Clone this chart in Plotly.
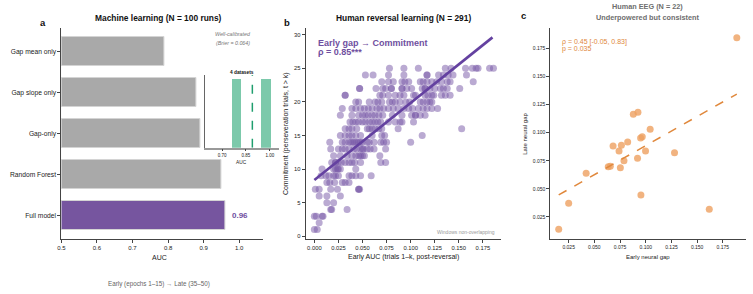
import plotly.graph_objects as go

# ---------------- DATA ----------------
# Panel a: machine learning AUCs
ml_models = ["Full model", "Random Forest", "Gap-only", "Gap slope only", "Gap mean only"]
ml_auc = [0.961, 0.950, 0.892, 0.879, 0.789]
full_label = "0.96"
# Inset histogram of AUC across 4 datasets
inset_bin_centers = [0.790, 0.973]
inset_counts = [2, 2]
inset_bin_width = 0.058
inset_mean_auc = 0.89

# Panel b: human reversal learning (early AUC vs commitment); rows by commitment value
b_rows = {
    25: [0.078, 0.093, 0.108, 0.136, 0.142, 0.157, 0.164, 0.168, 0.170, 0.182, 0.186],
    24: [0.053, 0.061, 0.077, 0.093, 0.117, 0.117, 0.129, 0.134, 0.139, 0.144, 0.158],
    23: [0.070, 0.077, 0.082, 0.091, 0.094, 0.098, 0.110, 0.113, 0.117, 0.122, 0.127, 0.132, 0.138, 0.141, 0.165],
    22: [0.047, 0.047, 0.064, 0.071, 0.074, 0.080, 0.080, 0.091, 0.091, 0.096, 0.101, 0.112, 0.115, 0.115,
         0.120, 0.125, 0.131, 0.134, 0.138, 0.151],
    21: [0.032, 0.032, 0.068, 0.071, 0.077, 0.084, 0.089, 0.093, 0.103, 0.105, 0.115, 0.118, 0.122, 0.124,
         0.132, 0.136, 0.141],
    20: [0.043, 0.046, 0.057, 0.063, 0.066, 0.070, 0.078, 0.081, 0.084, 0.089, 0.095, 0.099, 0.110, 0.113,
         0.117, 0.120, 0.122],
    19: [0.029, 0.039, 0.043, 0.048, 0.052, 0.056, 0.060, 0.065, 0.068, 0.072, 0.077, 0.082, 0.087, 0.093,
         0.098, 0.102, 0.108, 0.113, 0.117, 0.122, 0.128],
    18: [0.027, 0.039, 0.046, 0.050, 0.053, 0.056, 0.060, 0.063, 0.067, 0.071, 0.081, 0.091, 0.101, 0.105,
         0.105, 0.110, 0.115],
    17: [0.037, 0.040, 0.043, 0.046, 0.050, 0.053, 0.057, 0.060, 0.063, 0.066, 0.069, 0.077, 0.084, 0.089,
         0.091, 0.103],
    16: [0.032, 0.036, 0.039, 0.044, 0.055, 0.057, 0.060, 0.063, 0.067, 0.070, 0.087, 0.153],
    15: [0.027, 0.032, 0.036, 0.039, 0.043, 0.048, 0.060, 0.070, 0.073, 0.112],
    14: [0.016, 0.029, 0.032, 0.036, 0.038, 0.040, 0.042, 0.044, 0.046, 0.048, 0.050, 0.055, 0.057, 0.062,
         0.069, 0.072, 0.075, 0.100],
    13: [0.017, 0.025, 0.029, 0.032, 0.036, 0.041, 0.044, 0.048, 0.050, 0.051, 0.055, 0.058, 0.062, 0.074],
    12: [0.020, 0.027, 0.034, 0.039, 0.043, 0.046, 0.048, 0.050, 0.052, 0.068],
    11: [0.018, 0.022, 0.022, 0.025, 0.028, 0.032, 0.036, 0.039, 0.042, 0.048, 0.069, 0.074],
    10: [0.008, 0.020, 0.022, 0.024, 0.025, 0.027, 0.043],
    9: [0.007, 0.012, 0.015, 0.020, 0.022, 0.025, 0.036, 0.039, 0.043, 0.048, 0.059],
    8: [0.013, 0.016, 0.021, 0.029, 0.032, 0.036],
    7: [0.001, 0.005, 0.017, 0.024, 0.046, 0.046, 0.047],
    6: [0.005, 0.013, 0.027],
    5: [0.013, 0.020],
    4: [0.017, 0.018, 0.034],
    3: [0.000, 0.002, 0.008, 0.009],
    2: [0.005],
    1: [0.000, 0.003],
}
b_fit_slope = 114.7
b_fit_intercept = 8.38
b_fit_x = [0.0, 0.185]

# Panel c: human EEG
c_early = [0.1886, 0.0879, 0.0924, 0.1043, 0.0950, 0.0966, 0.0682, 0.0763, 0.0824, 0.0740, 0.0998,
           0.1280, 0.0788, 0.0920, 0.0635, 0.0655, 0.0753, 0.0420, 0.0250, 0.0953, 0.1618, 0.0153]
c_late = [0.1845, 0.1164, 0.1181, 0.1030, 0.0953, 0.0964, 0.0882, 0.0888, 0.0917, 0.0837, 0.0837,
          0.0822, 0.0751, 0.0772, 0.0698, 0.0702, 0.0689, 0.0639, 0.0372, 0.0446, 0.0318, 0.0141]
c_fit_slope = 0.518
c_fit_intercept = 0.0367

# ---------------- FIGURE ----------------
W, H = 753, 294
FONT = "Liberation Sans, Arial, sans-serif"
PURPLE = "#6f4fa0"
ORANGE = "#e0883c"


def PX(x):
    return x / W


def PY(y):
    return 1 - y / H


b_x, b_y = [], []
for yv, xs in b_rows.items():
    for xv in xs:
        b_x.append(xv)
        b_y.append(yv)

fig = go.Figure()

# Panel a bars
ypos = list(range(len(ml_models)))
fig.add_trace(go.Bar(
    x=[a - 0.5 for a in ml_auc], base=0.5, y=ypos, orientation="h", width=0.7,
    marker=dict(color=["#76559f"] + ["#a9a9a9"] * 4, line=dict(color="#d4d4d4", width=1)),
    xaxis="x", yaxis="y", showlegend=False, hoverinfo="skip"))

# Inset histogram
fig.add_trace(go.Bar(
    x=inset_bin_centers, y=inset_counts, width=inset_bin_width,
    marker=dict(color="#7cc9ab", line=dict(width=0)),
    xaxis="x4", yaxis="y4", showlegend=False, hoverinfo="skip"))
fig.add_trace(go.Scatter(
    x=[inset_mean_auc, inset_mean_auc], y=[0, 2.12], mode="lines",
    line=dict(color="#1f9e6e", width=1.5, dash="dash"),
    xaxis="x4", yaxis="y4", showlegend=False, hoverinfo="skip"))

# Panel b scatter
fig.add_trace(go.Scatter(
    x=b_x, y=b_y, mode="markers",
    marker=dict(size=7, color="rgba(118,86,166,0.5)", line=dict(width=0)),
    xaxis="x2", yaxis="y2", showlegend=False, hoverinfo="skip"))
fig.add_trace(go.Scatter(
    x=b_fit_x, y=[b_fit_intercept + b_fit_slope * v for v in b_fit_x], mode="lines",
    line=dict(color="#6441a0", width=2.6),
    xaxis="x2", yaxis="y2", showlegend=False, hoverinfo="skip"))

# Panel c scatter
fig.add_trace(go.Scatter(
    x=c_early, y=c_late, mode="markers",
    marker=dict(size=7, color="rgba(238,160,96,0.8)", line=dict(width=0)),
    xaxis="x3", yaxis="y3", showlegend=False, hoverinfo="skip", cliponaxis=False))
cx = [min(c_early), max(c_early)]
fig.add_trace(go.Scatter(
    x=cx, y=[c_fit_intercept + c_fit_slope * v for v in cx], mode="lines",
    line=dict(color=ORANGE, width=1.5, dash="dash"),
    xaxis="x3", yaxis="y3", showlegend=False, hoverinfo="skip"))

axis_common = dict(showline=True, linecolor="#444", linewidth=1, ticks="outside", ticklen=3,
                   tickcolor="#444", tickwidth=1, showgrid=False, zeroline=False,
                   tickfont=dict(size=6, color="#222", family=FONT))

fig.update_layout(
    width=W, height=H, margin=dict(l=0, r=0, t=0, b=0),
    paper_bgcolor="white", plot_bgcolor="rgba(0,0,0,0)",
    font=dict(family=FONT, color="#222"),
    bargap=0,
    xaxis=dict(domain=[PX(57.7), PX(260)], range=[0.5, 1.066], tickvals=[0.5, 0.6, 0.7, 0.8, 0.9, 1.0],
               ticktext=["0.5", "0.6", "0.7", "0.8", "0.9", "1.0"], anchor="y", **axis_common),
    yaxis=dict(domain=[PY(239), PY(28)], range=[-0.58, 4.58], tickvals=ypos, ticktext=ml_models,
               anchor="x", **{**axis_common, "tickfont": dict(size=6.7, color="#222", family=FONT)}),
    xaxis2=dict(domain=[PX(303.3), PX(500)], range=[-0.009, 0.1942],
                tickvals=[0, 0.025, 0.05, 0.075, 0.1, 0.125, 0.15, 0.175],
                ticktext=["0.000", "0.025", "0.050", "0.075", "0.100", "0.125", "0.150", "0.175"],
                anchor="y2", **{**axis_common, "tickfont": dict(size=5.8, color="#222", family=FONT)}),
    yaxis2=dict(domain=[PY(239), PY(28.3)], range=[-0.4, 30.95], tickvals=[0, 5, 10, 15, 20, 25, 30],
                anchor="x2", **{**axis_common, "tickfont": dict(size=5.8, color="#222", family=FONT)}),
    xaxis3=dict(domain=[PX(549.3), PX(745.7)], range=[0.0072, 0.1973],
                tickvals=[0.025, 0.05, 0.075, 0.1, 0.125, 0.15, 0.175],
                ticktext=["0.025", "0.050", "0.075", "0.100", "0.125", "0.150", "0.175"],
                anchor="y3", **{**axis_common, "tickfont": dict(size=5, color="#222", family=FONT)}),
    yaxis3=dict(domain=[PY(239), PY(28.3)], range=[0.0054, 0.1929],
                tickvals=[0.025, 0.05, 0.075, 0.1, 0.125, 0.15, 0.175],
                ticktext=["0.025", "0.050", "0.075", "0.100", "0.125", "0.150", "0.175"],
                anchor="x3", **{**axis_common, "tickfont": dict(size=5, color="#222", family=FONT)}),
    xaxis4=dict(domain=[PX(201.7), PX(276.7)], range=[0.59, 1.059], tickvals=[0.7, 0.85, 1.0],
                ticktext=["0.70", "0.85", "1.00"], anchor="y4",
                **{**axis_common, "ticklen": 2, "linecolor": "#999", "linewidth": 1.5,
                   "tickfont": dict(size=4.5, color="#222", family=FONT)}),
    yaxis4=dict(domain=[PY(147.7), PY(75)], range=[0, 2.12], anchor="x4", showline=True,
                linecolor="#666", linewidth=1, showgrid=False, zeroline=False, showticklabels=False,
                ticks=""),
)


def ann(x, y, text, size, color="#222", xanchor="center", bold=False, italic=False, angle=0):
    t = text
    if bold:
        t = "<b>" + t + "</b>"
    if italic:
        t = "<i>" + t + "</i>"
    fig.add_annotation(x=PX(x), y=PY(y), xref="paper", yref="paper", text=t, showarrow=False,
                       xanchor=xanchor, yanchor="middle", textangle=angle,
                       font=dict(size=size, color=color, family=FONT))


# Panel letters and titles
ann(39, 22.7, "a", 9.5, "#111", bold=True)
ann(284.3, 22.3, "b", 9.5, "#111", bold=True)
ann(522.7, 15.7, "c", 9.5, "#111", bold=True)
ann(155.7, 18, "Machine learning (N = 100 runs)", 8.4, "#111", bold=True)
ann(401.7, 17.7, "Human reversal learning (N = 291)", 8.4, "#111", bold=True)
ann(647.3, 6.5, "Human EEG (N = 22)", 7.3, "#6e6e6e", bold=True)
ann(647.3, 17.7, "Underpowered but consistent", 7.3, "#6e6e6e", bold=True)

# Panel a texts
ann(156, 257, "AUC", 7)
ann(155.7, 284, "Early (epochs 1–15) → Late (35–50)", 6.3, "#666")
fig.add_annotation(x=ml_auc[0], y=0, xref="x", yref="y", text="<b>" + full_label + "</b>",
                   showarrow=False, xanchor="left", xshift=5, yanchor="middle",
                   font=dict(size=8, color=PURPLE, family=FONT))
ann(230, 34, "Well-calibrated", 5.3, "#777", italic=True)
ann(230, 42.7, "(Brier = 0.064)", 5.3, "#777", italic=True)
ann(239, 72.3, "4 datasets", 4.8, "#111", bold=True)
ann(239, 162.7, "AUC", 4.8)

# Panel b texts
ann(313.3, 42.7, "Early gap → Commitment", 9, PURPLE, xanchor="left", bold=True)
ann(313.3, 51.7, "ρ = 0.85***", 9, PURPLE, xanchor="left", bold=True)
ann(496, 232, "Windows non-overlapping", 5, "#999", xanchor="right")
ann(401.7, 257.3, "Early AUC (trials 1–k, post-reversal)", 7)
ann(283, 133.6, "Commitment (perseveration trials, t > k)", 7, angle=-90)

# Panel c texts
ann(559.3, 41.7, "ρ = 0.45 [-0.05, 0.83]", 7, ORANGE, xanchor="left")
ann(559.3, 49.3, "p = 0.035", 7, ORANGE, xanchor="left")
ann(647, 256.7, "Early neural gap", 6)
ann(523, 133.6, "Late neural gap", 6, angle=-90)

fig.write_html("out.html", config={"displayModeBar": False},
               post_script="document.body.style.margin='0px';")
